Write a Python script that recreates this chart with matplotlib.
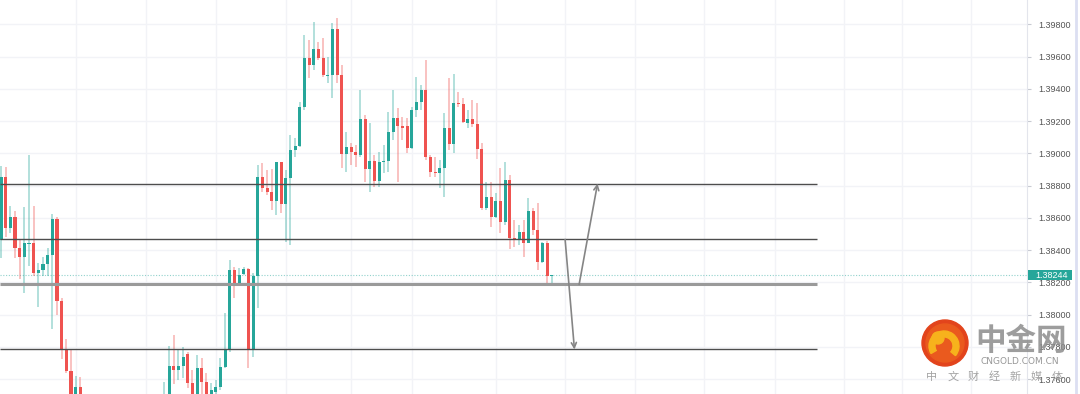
import numpy as np
import matplotlib
matplotlib.use('Agg')
import matplotlib.pyplot as plt
from matplotlib.patches import Circle, Wedge, Rectangle
from matplotlib.transforms import blended_transform_factory
from matplotlib.lines import Line2D

# OHLC, одна свеча на позицию (индекс 18..34 уходят ниже видимой области)
opens = [1.38463, 1.38856, 1.38539, 1.38608, 1.38412, 1.38360, 1.38438, 1.38446, 1.38257, 1.38277,
         1.38314, 1.38370, 1.38593, 1.38085, 1.37785, 1.37651, 1.37440, 1.37553, 1.37409, 1.3735,
         1.3728, 1.3722, 1.3726, 1.3718, 1.3712, 1.3716, 1.3709, 1.3714, 1.3720, 1.3717,
         1.3725, 1.3730, 1.3727, 1.3734, 1.3738, 1.37409, 1.37471, 1.37682, 1.37657, 1.37682,
         1.37756, 1.37575, 1.37483, 1.37668, 1.37585, 1.37490, 1.37521, 1.37553, 1.37678, 1.37787,
         1.38277, 1.38195, 1.38250, 1.38283, 1.37787, 1.38240, 1.38852, 1.38784, 1.38763, 1.38707,
         1.38947, 1.38684, 1.38846, 1.39021, 1.39046, 1.39290, 1.39590, 1.39548, 1.39645, 1.39590,
         1.39482, 1.39486, 1.39771, 1.39486, 1.38994, 1.39042, 1.39011, 1.38990, 1.39213, 1.38903,
         1.38953, 1.38829, 1.38945, 1.38955, 1.39135, 1.39221, 1.39172, 1.39172, 1.39032, 1.39269,
         1.39321, 1.39393, 1.38980, 1.38887, 1.38877, 1.38908, 1.39156, 1.39058, 1.39314, 1.39304,
         1.39190, 1.39211, 1.39182, 1.39025, 1.38660, 1.38728, 1.38608, 1.38707, 1.38577, 1.38835,
         1.38474, 1.38463, 1.38515, 1.38446, 1.38645, 1.38525, 1.38329, 1.38443, 1.38240]
highs = [1.38922, 1.38918, 1.38676, 1.38643, 1.38463, 1.38670, 1.38990, 1.38674, 1.38319, 1.38360,
         1.38412, 1.38624, 1.38604, 1.38102, 1.37847, 1.37781, 1.37620, 1.37615, 1.37429, 1.3737,
         1.3730, 1.3728, 1.3728, 1.3720, 1.3718, 1.3718, 1.3716, 1.3722, 1.3722, 1.3727,
         1.3732, 1.3732, 1.3736, 1.3740, 1.3743, 1.37583, 1.37806, 1.37874, 1.37781, 1.37802,
         1.37771, 1.37657, 1.37750, 1.37731, 1.37638, 1.37576, 1.37595, 1.37730, 1.38009, 1.38339,
         1.38298, 1.38288, 1.38298, 1.38288, 1.38258, 1.38928, 1.38939, 1.38897, 1.38901, 1.38949,
         1.38949, 1.38897, 1.39114, 1.39094, 1.39321, 1.39734, 1.39703, 1.39816, 1.39692, 1.39714,
         1.39600, 1.39807, 1.39838, 1.39548, 1.39135, 1.39063, 1.39052, 1.39393, 1.39238, 1.39187,
         1.38990, 1.39011, 1.39052, 1.39255, 1.39393, 1.39280, 1.39228, 1.39218, 1.39290, 1.39476,
         1.39424, 1.39579, 1.38990, 1.38980, 1.38959, 1.39249, 1.39466, 1.39492, 1.39383, 1.39342,
         1.39269, 1.39331, 1.39311, 1.39063, 1.38825, 1.38825, 1.38753, 1.38908, 1.38949, 1.38866,
         1.38587, 1.38556, 1.38587, 1.38722, 1.38660, 1.38691, 1.38453, 1.38459, 1.38246]
lows = [1.38351, 1.38484, 1.38506, 1.38350, 1.38219, 1.38133, 1.38302, 1.38240, 1.38050, 1.38240,
        1.38240, 1.37911, 1.37998, 1.37723, 1.37637, 1.37409, 1.37409, 1.37378, 1.3732, 1.3725,
        1.3719, 1.3719, 1.3715, 1.3709, 1.3709, 1.3706, 1.3706, 1.3711, 1.3714, 1.3714,
        1.3722, 1.3724, 1.3724, 1.3731, 1.3735, 1.37378, 1.37440, 1.37570, 1.37595, 1.37607,
        1.37544, 1.37459, 1.37471, 1.37496, 1.37459, 1.37471, 1.37496, 1.37533, 1.37669, 1.37771,
        1.38105, 1.38180, 1.38246, 1.37668, 1.37740, 1.38040, 1.38763, 1.38742, 1.38649, 1.38618,
        1.38629, 1.38453, 1.38432, 1.38980, 1.39042, 1.39269, 1.39466, 1.39517, 1.39579, 1.39476,
        1.39435, 1.39342, 1.39435, 1.38908, 1.38887, 1.38928, 1.38918, 1.38980, 1.38825, 1.38763,
        1.38794, 1.38794, 1.38877, 1.38887, 1.39083, 1.38825, 1.39083, 1.39001, 1.39027, 1.39228,
        1.39269, 1.38959, 1.38856, 1.38856, 1.38784, 1.38732, 1.39021, 1.39001, 1.39290, 1.39187,
        1.39156, 1.39166, 1.38963, 1.38649, 1.38649, 1.38546, 1.38598, 1.38505, 1.38556, 1.38405,
        1.38422, 1.38432, 1.38360, 1.38443, 1.38494, 1.38277, 1.38319, 1.38190, 1.38195]
closes = [1.38856, 1.38539, 1.38608, 1.38412, 1.38360, 1.38446, 1.38446, 1.38257, 1.38277, 1.38314,
          1.38370, 1.38593, 1.38085, 1.37785, 1.37651, 1.37471, 1.37553, 1.37409, 1.3735, 1.3728,
          1.3722, 1.3726, 1.3718, 1.3712, 1.3716, 1.3709, 1.3714, 1.3720, 1.3717, 1.3725,
          1.3730, 1.3727, 1.3734, 1.3738, 1.3741, 1.37496, 1.37682, 1.37657, 1.37682, 1.37740,
          1.37575, 1.37483, 1.37668, 1.37585, 1.37483, 1.37533, 1.37553, 1.37678, 1.37787, 1.38277,
          1.38195, 1.38246, 1.38283, 1.37787, 1.38240, 1.38852, 1.38784, 1.38763, 1.38707, 1.38947,
          1.38684, 1.38846, 1.39021, 1.39046, 1.39290, 1.39590, 1.39548, 1.39645, 1.39590, 1.39486,
          1.39486, 1.39771, 1.39486, 1.38994, 1.39042, 1.39011, 1.38990, 1.39213, 1.38903, 1.38953,
          1.38829, 1.38945, 1.38955, 1.39135, 1.39221, 1.39172, 1.39159, 1.39032, 1.39269, 1.39321,
          1.39393, 1.38980, 1.38887, 1.38877, 1.38908, 1.39156, 1.39058, 1.39314, 1.39304, 1.39197,
          1.39211, 1.39182, 1.39025, 1.38660, 1.38728, 1.38608, 1.38707, 1.38577, 1.38835, 1.38474,
          1.38463, 1.38515, 1.38446, 1.38645, 1.38525, 1.38329, 1.38443, 1.38240, 1.38244]

last_price = 1.38244
levels = [1.38813, 1.38466, 1.37784]
support = 1.38187
level_end = 174.8
# стрелки сценариев: (x0, y0, x1, y1)
arrow_down = (120.85, 1.38466, 122.85, 1.37784)
arrow_up = (123.85, 1.38187, 127.8, 1.38813)

price_ticks = [1.376, 1.378, 1.380, 1.382, 1.384, 1.386, 1.388, 1.390, 1.392, 1.394, 1.396, 1.398]
time_grid = [16.07, 31.07, 46.07, 61.07, 75.0, 88.07, 106.07, 120.85, 135.85, 150.6,
             165.85, 180.6, 193.07, 207.8]

up_col = '#26a69a'
dn_col = '#ef5350'
lab_font = ['Liberation Sans', 'DejaVu Sans']

fig = plt.figure(figsize=(10.8, 3.94), dpi=100)
ax = fig.add_axes([0, 0, 1027 / 1080, 1])
ax.set_xlim(-0.214, 219.8)
ax.set_ylim(1.37508, 1.39951)

for p in price_ticks:
    ax.axhline(p, color='#f2f3f7', lw=1, zorder=0)
for t in time_grid:
    ax.axvline(t, color='#f2f3f7', lw=1, zorder=0)

x = np.arange(len(opens))
o = np.array(opens)
h = np.array(highs)
l = np.array(lows)
c = np.array(closes)
cols = np.where(c >= o, up_col, dn_col)
ax.vlines(x, l, h, colors=cols, lw=1.1, alpha=0.45, zorder=2)
body = np.maximum(np.abs(c - o), 0.00006)
ax.bar(x, body, bottom=np.minimum(o, c), width=0.66, color=cols, zorder=3)

ax.axhline(last_price, color=up_col, lw=0.8, ls=(0, (1, 1.5)), alpha=0.5, zorder=1)

ax.hlines(levels, -0.214, level_end, colors='#4d4d4d', lw=1.0, zorder=4)
ax.hlines([support], -0.214, level_end, colors='#9a9a9a', lw=2.2, zorder=4)

for a in (arrow_down, arrow_up):
    ax.annotate('', xy=(a[2], a[3]), xytext=(a[0], a[1]),
                arrowprops=dict(arrowstyle='->', color='#858585', lw=1.2,
                                mutation_scale=9, shrinkA=0, shrinkB=0), zorder=5)

for s in ['top', 'left', 'bottom']:
    ax.spines[s].set_visible(False)
ax.spines['right'].set_color('#e3e5ec')
ax.set_xticks([])
ax.yaxis.tick_right()
ax.set_yticks(price_ticks)
ax.set_yticklabels(['%.5f' % p for p in price_ticks], family=lab_font)
ax.tick_params(axis='y', length=3, width=0.8, color='#c8cad2', pad=5,
               labelsize=6.5, labelcolor='#555555')

tr = blended_transform_factory(ax.transAxes, ax.transData)
ax.add_patch(Rectangle((1.0007, last_price - 0.00031), 0.0428, 0.00062, transform=tr,
                       facecolor=up_col, edgecolor='none', clip_on=False, zorder=10))
ax.text(1.0078, last_price, '%.5f' % last_price, transform=tr, ha='left', va='center',
        color='white', fontsize=6.5, family=lab_font, clip_on=False, zorder=11)

fig.add_artist(Line2D([1075.5 / 1080] * 2, [0, 1], color='#dcdff2', lw=2))

# водяной знак
wax = fig.add_axes([0, 0, 1, 1])
wax.set_xlim(0, 1080)
wax.set_ylim(394, 0)
wax.axis('off')
wax.add_patch(Circle((945, 343), 23, color='#e2441c', zorder=1))
wax.add_patch(Circle((945, 343), 19, color='#ea5a1e', zorder=1))
wax.add_patch(Wedge((944, 346), 15, 150, 40, width=6, color='#f7b21c', zorder=2))
wax.add_patch(Circle((938, 338), 6, color='#f7b21c', zorder=2))
cjk = ['Noto Sans CJK SC', 'DejaVu Sans']
wax.text(1021, 341, '中金网', family=cjk, fontsize=22, fontweight='bold', color='#8c8c8c',
         alpha=0.85, ha='center', va='center')
wax.text(1020, 362, 'CNGOLD.COM.CN', fontsize=6.5, color='#8c8c8c', alpha=0.9,
         ha='center', va='center')
for k, ch in enumerate('中文财经新媒体'):
    wax.text(932 + k * 20.8, 377, ch, family=cjk, fontsize=8, color='#9a9a9a',
             alpha=0.9, ha='center', va='center')

fig.savefig('out.png', dpi=100, facecolor='white')
